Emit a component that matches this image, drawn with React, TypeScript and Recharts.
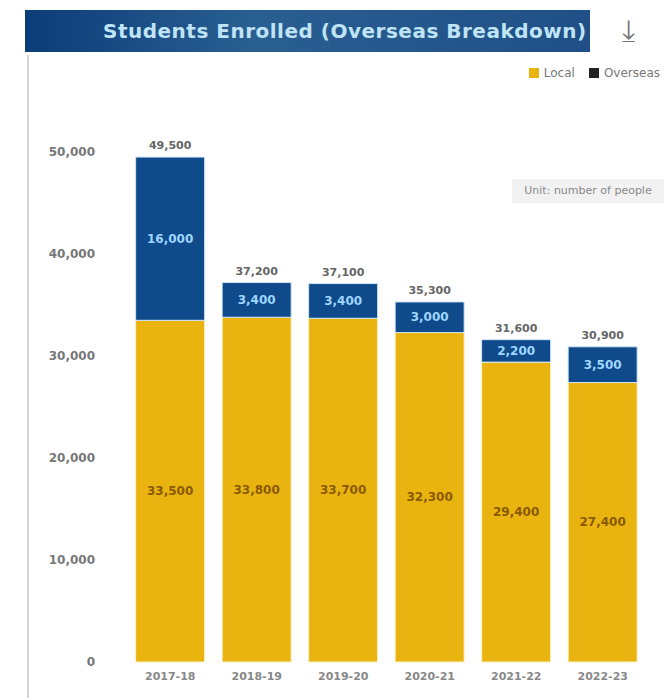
import React from "react";
import { BarChart, Bar, XAxis, YAxis, LabelList } from "recharts";

const categories = ["2017-18", "2018-19", "2019-20", "2020-21", "2021-22", "2022-23"];
const localValues = [33500, 33800, 33700, 32300, 29400, 27400];
const overseasValues = [16000, 3400, 3400, 3000, 2200, 3500];
const yTicks = [0, 10000, 20000, 30000, 40000, 50000];

const data = categories.map((c, i) => ({
  name: c,
  local: localValues[i],
  overseas: overseasValues[i],
  total: localValues[i] + overseasValues[i],
}));

const fmt = (v: number) => Number(v).toLocaleString("en-US");
const FONT = "'DejaVu Sans', sans-serif";

const GOLD = "#e9b410";
const BLUE = "#0f4a8a";

const TotalLabel = (p: any) => {
  const { x, y, width, value } = p;
  return (
    <text x={x + width / 2} y={y - 8} textAnchor="middle" fontSize={11} fontWeight="bold" fill="#666" fontFamily={FONT}>
      {fmt(value)}
    </text>
  );
};

const BlueLabel = (p: any) => {
  const { x, y, width, height, value } = p;
  return (
    <text x={x + width / 2} y={y + height / 2} dy={4} textAnchor="middle" fontSize={12} fontWeight="bold" fill="#9fd6ff" fontFamily={FONT}>
      {fmt(value)}
    </text>
  );
};

const GoldLabel = (p: any) => {
  const { x, y, width, height, value } = p;
  return (
    <text x={x + width / 2} y={y + height / 2} dy={4} textAnchor="middle" fontSize={12} fontWeight="bold" fill="#8a5a00" fontFamily={FONT}>
      {fmt(value)}
    </text>
  );
};

export default function App() {
  return (
    <div style={{ position: "absolute", left: 0, top: 0, width: 670, height: 698, background: "#fff", fontFamily: FONT, overflow: "hidden" }}>
      <div style={{ position: "absolute", left: 27, top: 55, width: 2, height: 643, background: "#d4d4d4" }} />
      <div
        style={{
          position: "absolute", left: 25, top: 10, width: 565, height: 42,
          background: "linear-gradient(90deg, #0b3d78 0%, #2a5f92 40%, #1f4f86 100%)",
          color: "#bfe4f6", fontSize: 20, fontWeight: "bold", lineHeight: "42px",
          paddingLeft: 78, boxSizing: "border-box", whiteSpace: "nowrap", letterSpacing: 0.5,
        }}
      >
        Students Enrolled (Overseas Breakdown)
      </div>
      <div style={{ position: "absolute", left: 622, top: 12, fontSize: 30, color: "#777", lineHeight: "38px" }}>⤓</div>
      <div style={{ position: "absolute", right: 10, top: 66, display: "flex", alignItems: "center", fontSize: 12, color: "#777" }}>
        <span style={{ display: "inline-block", width: 10, height: 10, background: GOLD, marginRight: 5 }} />
        <span style={{ marginRight: 14 }}>Local</span>
        <span style={{ display: "inline-block", width: 10, height: 10, background: "#222", marginRight: 5 }} />
        <span>Overseas</span>
      </div>
      <div style={{ position: "absolute", left: 512, top: 179, width: 152, height: 24, background: "#f2f2f2", color: "#888", fontSize: 11, lineHeight: "24px", textAlign: "center" }}>
        Unit: number of people
      </div>
      <div style={{ position: "absolute", left: 0, top: 0 }}>
        <BarChart width={670} height={698} data={data} margin={{ top: 152, right: 24, bottom: 6, left: 0 }} barCategoryGap="10%">
          <XAxis dataKey="name" axisLine={false} tickLine={false} height={30} tick={{ fontSize: 11, fill: "#888", fontFamily: FONT, fontWeight: "bold" }} dy={2} />
          <YAxis type="number" domain={[0, 50000]} ticks={yTicks} width={127} axisLine={false} tickLine={false} tickMargin={26}
            tickFormatter={(v: number) => fmt(v)} tick={{ fontSize: 12, fill: "#777", fontFamily: FONT, fontWeight: "bold" }} />
          <Bar dataKey="local" stackId="a" fill={GOLD} stroke="#fff3c8" strokeWidth={1} isAnimationActive={false}>
            <LabelList dataKey="local" content={GoldLabel} />
          </Bar>
          <Bar dataKey="overseas" stackId="a" fill={BLUE} stroke="#cfe6f7" strokeWidth={1} isAnimationActive={false}>
            <LabelList dataKey="overseas" content={BlueLabel} />
            <LabelList dataKey="total" content={TotalLabel} />
          </Bar>
        </BarChart>
      </div>
    </div>
  );
}
